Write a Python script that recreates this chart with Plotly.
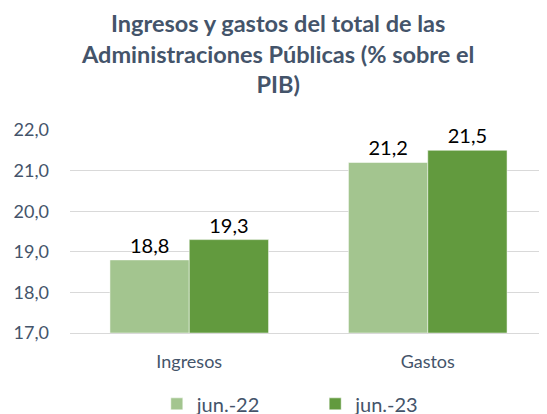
import plotly.graph_objects as go

categories = ["Ingresos", "Gastos"]
series_names = ["jun.-22", "jun.-23"]
values_jun22 = [18.8, 21.2]
values_jun23 = [19.3, 21.5]
tick_vals = [17, 18, 19, 20, 21, 22]
tick_text = ["17,0", "18,0", "19,0", "20,0", "21,0", "22,0"]
axis_base = 17

colors = ["#A3C58F", "#629A3E"]
font_family = "Lato, 'Open Sans', sans-serif"
legend_keys = ["legend", "legend2"]

# page body has an 8px margin; figure sized to fit the window
W, H = 539, 406
ML, MT, MB, MR = 62, 122, 81, 0
plot_w = W - ML - MR
plot_h = H - MT - MB

fig = go.Figure()
for name, vals, col, lg in zip(series_names, [values_jun22, values_jun23], colors, legend_keys):
    fig.add_trace(go.Bar(
        x=categories, y=[v - axis_base for v in vals], base=axis_base, name=name,
        marker=dict(color=col, line=dict(color="#FFFFFF", width=0.5)),
        text=[f"{v:.1f}".replace(".", ",") for v in vals],
        textposition="outside", cliponaxis=False,
        textfont=dict(size=20, color="#000000", family=font_family),
        hovertemplate="%{text}<extra></extra>",
        legend=lg,
    ))

fig.update_layout(
    width=W, height=H,
    margin=dict(l=ML, r=MR, t=MT, b=MB),
    paper_bgcolor="white", plot_bgcolor="white",
    barmode="group", bargap=0.335, bargroupgap=0,
    font=dict(family=font_family, color="#44546A"),
    annotations=[dict(
        text="<b>Ingresos y gastos del total de las<br>Administraciones Públicas (% sobre el<br>PIB)</b>",
        xref="paper", x=(W / 2 - ML) / plot_w,
        yref="paper", y=1 + (MT + 1) / plot_h,
        xanchor="center", yanchor="top",
        showarrow=False, align="center",
        font=dict(size=23.5, color="#44546A", family=font_family),
    )],
    legend=dict(
        orientation="h", x=0.182, xanchor="left",
        yref="container", y=0.025, yanchor="middle",
        font=dict(size=20, color="#44546A", family=font_family),
        itemwidth=30, bgcolor="rgba(0,0,0,0)",
    ),
    legend2=dict(
        orientation="h", x=0.514, xanchor="left",
        yref="container", y=0.025, yanchor="middle",
        font=dict(size=20, color="#44546A", family=font_family),
        itemwidth=30, bgcolor="rgba(0,0,0,0)",
    ),
    showlegend=True,
)
fig.update_xaxes(
    showline=True, linecolor="#D9D9D9", linewidth=1, ticks="",
    tickfont=dict(size=18, color="#44546A", family=font_family),
    ticklabelstandoff=12, automargin=False,
)
fig.update_yaxes(
    range=[17, 22], tickvals=tick_vals, ticktext=tick_text,
    showgrid=True, gridcolor="#D9D9D9", gridwidth=1, zeroline=False,
    tickfont=dict(size=18, color="#44546A", family=font_family),
    ticklabelstandoff=20, automargin=False,
)

fig.write_html("out.html")
